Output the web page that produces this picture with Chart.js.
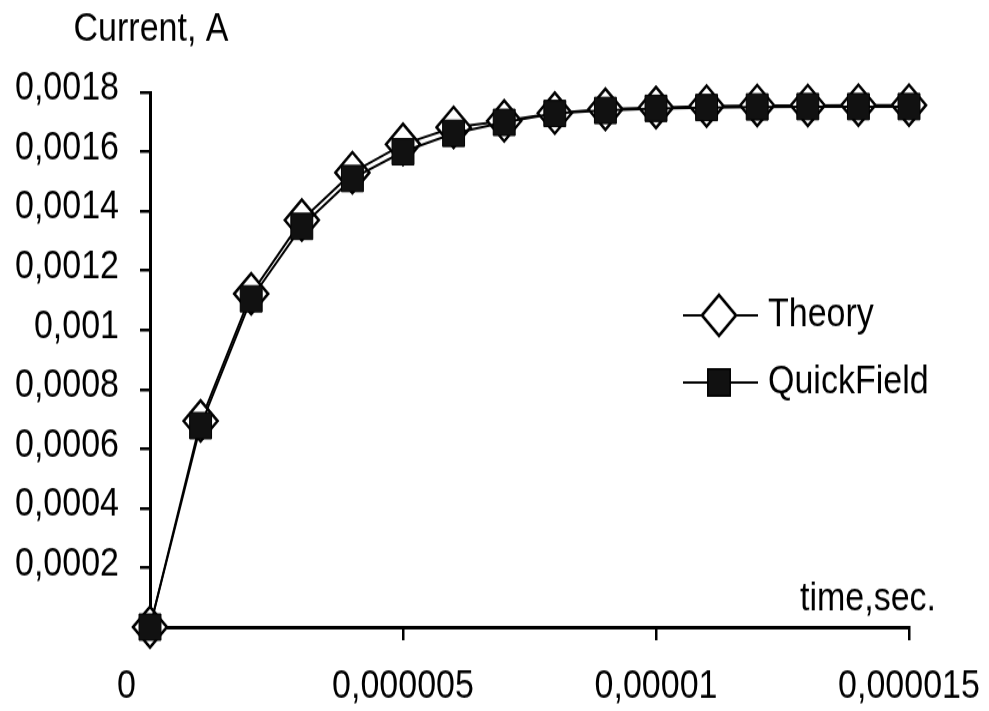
<!DOCTYPE html>
<html>
<head>
<meta charset="utf-8">
<script src="https://cdn.jsdelivr.net/npm/chart.js@4.4.0/dist/chart.umd.min.js"></script>
<style>
  body { margin: 0; background: #fff; }
  #outer { width: 989px; height: 711px; position: relative; }
  #wrap { position: absolute; left: 0; top: 0; width: 989px; height: 593px; transform: scaleY(1.199); transform-origin: 0 0; }
</style>
</head>
<body>
<div id="outer"><div id="wrap"><canvas id="chart" width="989" height="593"></canvas></div></div>
<script>
const times = [0, 0.000001, 0.000002, 0.000003, 0.000004, 0.000005, 0.000006, 0.000007,
    0.000008, 0.000009, 0.00001, 0.000011, 0.000012, 0.000013, 0.000014, 0.000015];
const theory = [0, 0.000694, 0.001122, 0.00137, 0.00153, 0.001625, 0.001682, 0.001704,
    0.00173, 0.001743, 0.001749, 0.001754, 0.001756, 0.001756, 0.001757, 0.001757];
const quickField = [0, 0.000678, 0.001105, 0.001349, 0.00151, 0.0016, 0.001662, 0.001699,
    0.001729, 0.001739, 0.001746, 0.001749, 0.001751, 0.001752, 0.001752, 0.001752];

const xTicks = [0, 0.000005, 0.00001, 0.000015];
const xTickLabels = ['0     ', '0,000005', '0,00001', '0,000015'];
const yTicks = [0.0002, 0.0004, 0.0006, 0.0008, 0.001, 0.0012, 0.0014, 0.0016, 0.0018];
const yTickLabels = ['0,0002', '0,0004', '0,0006', '0,0008', '0,001', '0,0012', '0,0014', '0,0016', '0,0018'];

const FONT = '"Liberation Sans", Arial, sans-serif';

// axis titles and legend drawn at the spots Excel used
const extras = {
    id: 'extras',
    afterDraw(chart) {
        const ctx = chart.ctx;
        ctx.save();
        ctx.fillStyle = '#000';
        ctx.font = '34px ' + FONT;
        ctx.textAlign = 'center';
        ctx.textBaseline = 'middle';
        ctx.fillText('Current, A', 151, 25);
        ctx.fillText('time,sec.', 868, 500);

        const rows = [
            { label: 'Theory', y: 263, ds: chart.data.datasets[0] },
            { label: 'QuickField', y: 319, ds: chart.data.datasets[1] }
        ];
        rows.forEach(r => {
            ctx.strokeStyle = '#000';
            ctx.lineWidth = 2;
            ctx.beginPath();
            ctx.moveTo(683, r.y);
            ctx.lineTo(758, r.y);
            ctx.stroke();
            Chart.helpers.drawPoint(ctx, {
                pointStyle: r.ds.pointStyle,
                radius: r.ds.pointRadius,
                borderWidth: r.ds.pointBorderWidth
            }, 719, r.y);
            ctx.fillStyle = r.ds.pointBackgroundColor;
            ctx.lineWidth = r.ds.pointBorderWidth;
            ctx.fill();
            ctx.stroke();
            ctx.fillStyle = '#000';
            ctx.textAlign = 'left';
            ctx.fillText(r.label, 768, r.y);
        });
        ctx.restore();
    }
};

new Chart(document.getElementById('chart'), {
    type: 'line',
    data: {
        datasets: [{
            label: 'Theory',
            data: times.map((t, i) => ({ x: t, y: theory[i] })),
            borderColor: '#000',
            borderWidth: 2,
            pointStyle: 'rectRot',
            pointRadius: 17,
            pointBorderWidth: 2.5,
            pointBackgroundColor: '#fff',
            pointBorderColor: '#000',
            clip: false,
            order: 2
        }, {
            label: 'QuickField',
            data: times.map((t, i) => ({ x: t, y: quickField[i] })),
            borderColor: '#000',
            borderWidth: 2,
            pointStyle: 'rect',
            pointRadius: 15.5,
            pointBorderWidth: 1,
            pointBackgroundColor: '#111',
            pointBorderColor: '#000',
            clip: false,
            order: 1
        }]
    },
    options: {
        responsive: false,
        animation: false,
        layout: { padding: { top: 77, right: 80, left: 0, bottom: 0 } },
        plugins: { legend: { display: false }, tooltip: { enabled: false } },
        scales: {
            x: {
                type: 'linear',
                min: 0,
                max: 0.000015,
                afterFit: s => { s.height = 70; s.paddingLeft = 0; s.paddingRight = 0; },
                afterBuildTicks: s => { s.ticks = xTicks.map(v => ({ value: v })); },
                ticks: {
                    color: '#000',
                    font: { family: FONT, size: 34 },
                    padding: 18,
                    maxRotation: 0,
                    autoSkip: false,
                    callback: (v, i) => xTickLabels[i]
                },
                grid: { drawOnChartArea: false, drawTicks: true, tickLength: 11, color: '#000', lineWidth: 2.5 },
                border: { display: true, color: '#000', width: 3 }
            },
            y: {
                min: 0,
                max: 0.0018,
                afterFit: s => { s.width = 150; },
                afterBuildTicks: s => { s.ticks = yTicks.map(v => ({ value: v })); },
                ticks: {
                    color: '#000',
                    font: { family: FONT, size: 34 },
                    padding: 21,
                    labelOffset: -3,
                    autoSkip: false,
                    callback: (v, i) => yTickLabels[i]
                },
                grid: { drawOnChartArea: false, drawTicks: true, tickLength: 10, color: '#000', lineWidth: 2.5 },
                border: { display: true, color: '#000', width: 3 }
            }
        }
    },
    plugins: [extras]
});
</script>
</body>
</html>
